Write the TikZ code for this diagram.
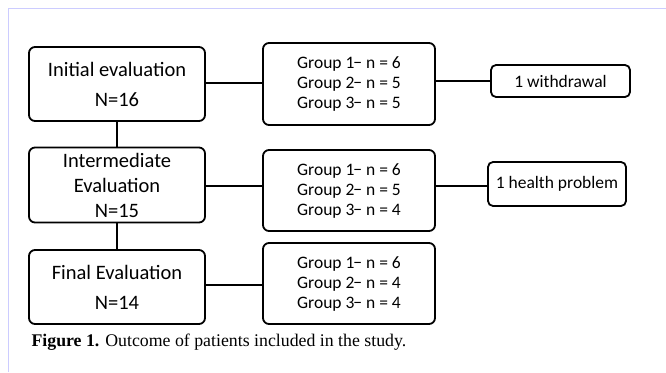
\documentclass[tikz,border=0pt]{standalone}
\usepackage{fontspec}
\setmainfont{Carlito}
\newfontfamily\capfont{Liberation Serif}
\colorlet{myframe}{blue!20!white}

\begin{document}
\begin{tikzpicture}[x=1pt,y=-1pt]
\useasboundingbox (0,0) rectangle (666,372);
\draw[myframe, line width=1.5pt] (8.5,372) -- (8.5,8.5) -- (666,8.5);
\tikzset{StageStyle/.style ={draw, line width=1.8pt, rounded corners=6pt, align=center,
  minimum width=176pt, font=\fontsize{20.5}{30}\selectfont}}
\tikzset{GroupStyle/.style ={draw, line width=1.8pt, rounded corners=6pt, align=center,
  minimum width=172pt, minimum height=81pt, font=\fontsize{17.5}{20}\selectfont}}
\tikzset{LossStyle/.style ={draw, line width=1.8pt, rounded corners=5pt,
  font=\fontsize{17.5}{20}\selectfont}}
\node[StageStyle, minimum height=74pt] (init) at (117,84) {Initial evaluation\\N=16};
\node[StageStyle, minimum height=75pt, font=\fontsize{20.5}{25}\selectfont] (inter) at (117,185) {Intermediate\\Evaluation\\N=15};
\node[StageStyle, minimum height=74pt] (final) at (117,287) {Final Evaluation\\N=14};
\node[GroupStyle, minimum height=82pt] (g1) at (349,84) {Group 1\kern-1pt{}− n = 6\\Group 2\kern-1pt{}− n = 5\\Group 3\kern-1pt{}− n = 5};
\node[GroupStyle] (g2) at (349,190.5) {Group 1\kern-1pt{}− n = 6\\Group 2\kern-1pt{}− n = 5\\Group 3\kern-1pt{}− n = 4};
\node[GroupStyle] (g3) at (349,283.5) {Group 1\kern-1pt{}− n = 6\\Group 2\kern-1pt{}− n = 4\\Group 3\kern-1pt{}− n = 4};
\node[LossStyle, minimum width=139pt, minimum height=32pt] (wd) at (560.5,81) {1 withdrawal};
\node[LossStyle, minimum width=138pt, minimum height=44pt] (hp) at (557,184) {1 health problem};
\tikzset{EdgeStyle/.style ={line width=1.8pt}}
\draw[EdgeStyle] (init) -- (inter);
\draw[EdgeStyle] (inter) -- (final);
\draw[EdgeStyle] (init.east |- 0,83) -- (g1.west |- 0,83);
\draw[EdgeStyle] (g2.west |- 0,186) -- (inter.east |- 0,186);
\draw[EdgeStyle] (final.east |- 0,285) -- (g3.west |- 0,285);
\draw[EdgeStyle] (wd.west) -- (wd.west -| g1.east);
\draw[EdgeStyle] (hp.west |- 0,186) -- (g2.east |- 0,186);
\node[anchor=base west, font=\capfont\fontsize{17.8}{20}\selectfont] (cap) at (28,346) {\textbf{Figure 1.} Outcome of patients included in the study.};
\end{tikzpicture}
\end{document}
